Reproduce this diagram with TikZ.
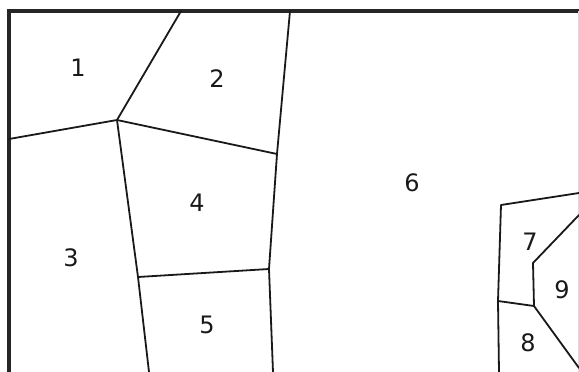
\documentclass[tikz,border=0pt]{standalone}
\usepackage{fontspec}
\setmainfont{DejaVu Sans}
\begin{document}
\begin{tikzpicture}[x=1pt,y=-1pt,
  frame/.style={line width=3.2pt,black!85},
  edge/.style={line width=1.8pt,black!90,line cap=round,line join=round},
  lab/.style={font=\fontsize{24}{26}\selectfont,text=black!90,inner sep=0pt}]
\useasboundingbox (0,0) rectangle (579,372);
% frame
\coordinate (TL) at (9,11);
\coordinate (TR) at (579,11);
\coordinate (BL) at (9,372);
\coordinate (RT) at (578.5,11);
\coordinate (RB) at (578.5,372);
\draw[frame] (BL) -- (TL) -- (TR);
\draw[line width=0.8pt,black!15] (RT) -- (RB);
% vertices
\coordinate (a) at (117,120);
\coordinate (b) at (181,11);
\coordinate (c) at (9,139);
\coordinate (d) at (290,11);
\coordinate (e) at (277,154);
\coordinate (f) at (138,277);
\coordinate (g) at (149,372);
\coordinate (h) at (269,269);
\coordinate (i) at (273,372);
\coordinate (j) at (501,205);
\coordinate (k) at (579,193);
\coordinate (l) at (498,301);
\coordinate (m) at (499,372);
\coordinate (n) at (534,306);
\coordinate (o) at (533,263);
\coordinate (p) at (579,215);
\coordinate (q) at (579,368);
% edges
\draw[edge] (b) -- (a) -- (c);
\draw[edge] (a) -- (e);
\draw[edge] (d) -- (e) -- (h) -- (i);
\draw[edge] (a) -- (f) -- (g);
\draw[edge] (f) -- (h);
\draw[edge] (k) -- (j) -- (l) -- (m);
\draw[edge] (l) -- (n) -- (o) -- (p);
\draw[edge] (n) -- (q);
% labels
\node[lab] (n1) at (78,68) {1};
\node[lab] (n2) at (217,79) {2};
\node[lab] (n3) at (71,258) {3};
\node[lab] (n4) at (197,203) {4};
\node[lab] (n5) at (207,325) {5};
\node[lab] (n6) at (412,183) {6};
\node[lab] (n7) at (530,242) {7};
\node[lab] (n8) at (528,343) {8};
\node[lab] (n9) at (562,290) {9};
\end{tikzpicture}
\end{document}
